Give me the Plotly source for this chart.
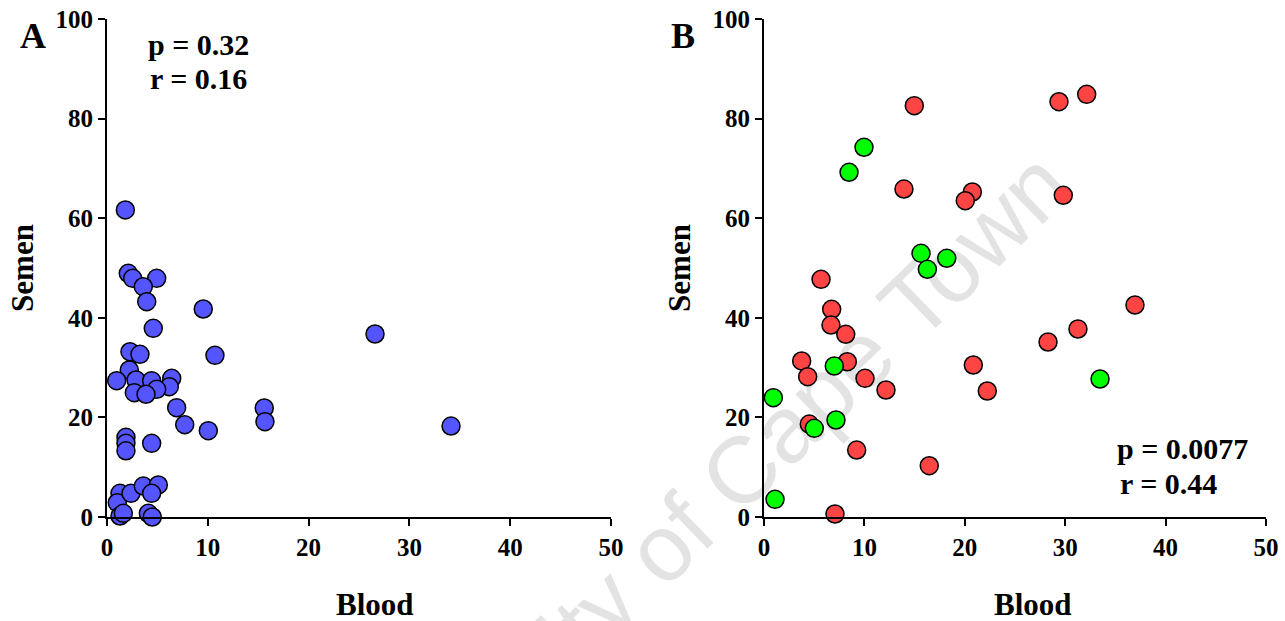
import plotly.graph_objects as go

# Panel A data (Blood vs Semen)
a_blood = [1.82, 2.11, 2.55, 4.93, 3.60, 3.94, 9.55, 4.59, 2.28, 3.27, 10.71, 2.21, 0.96, 2.88,
           4.43, 6.42, 6.18, 4.93, 2.71, 3.87, 6.91, 7.71, 10.05, 15.60, 15.67, 26.59, 34.13,
           1.88, 1.88, 1.88, 4.43, 1.29, 1.02, 2.38, 3.60, 5.09, 4.43, 1.29, 1.62, 4.10, 4.49]
a_semen = [61.65, 48.94, 47.93, 47.93, 46.24, 43.23, 41.77, 37.89, 33.19, 32.67, 32.47, 29.52,
           27.37, 27.51, 27.37, 27.85, 26.16, 25.64, 24.96, 24.64, 21.95, 18.53, 17.33, 21.89,
           19.14, 36.75, 18.27, 16.0, 14.8, 13.3, 14.8, 4.76, 2.87, 4.76, 6.22, 6.43, 4.76,
           0.2, 0.74, 0.74, 0.0]

# Panel B data: red group
b_red_blood = [14.97, 29.38, 32.14, 13.94, 20.75, 20.05, 29.81, 5.68, 6.74, 6.67, 8.14, 36.95,
               31.27, 28.29, 3.75, 8.30, 4.35, 10.06, 12.15, 20.85, 22.24, 4.51, 9.23, 16.46, 7.07]
b_red_semen = [82.59, 83.39, 84.88, 65.86, 65.26, 63.51, 64.60, 47.73, 41.71, 38.55, 36.69, 42.57,
               37.75, 35.14, 31.33, 31.18, 28.17, 27.85, 25.50, 30.52, 25.30, 18.67, 13.45, 10.30, 0.6]
# Panel B data: green group
b_green_blood = [9.96, 8.47, 15.64, 18.20, 16.27, 7.00, 0.93, 7.17, 5.01, 33.47, 1.10]
b_green_semen = [74.24, 69.22, 52.95, 51.95, 49.74, 30.32, 23.96, 19.48, 17.81, 27.71, 3.55]

x_ticks = [0, 10, 20, 30, 40, 50]
y_ticks = [0, 20, 40, 60, 80, 100]

W, H = 1285, 621
serif = "Liberation Serif"

def mk(color):
    return dict(size=18, color=color, line=dict(color="black", width=1.5))

fig = go.Figure()
fig.add_trace(go.Scatter(x=a_blood, y=a_semen, mode="markers", marker=mk("#5555ff"),
                         xaxis="x", yaxis="y", cliponaxis=False, showlegend=False))
fig.add_trace(go.Scatter(x=b_red_blood, y=b_red_semen, mode="markers", marker=mk("#ff4444"),
                         xaxis="x2", yaxis="y2", cliponaxis=False, showlegend=False))
fig.add_trace(go.Scatter(x=b_green_blood, y=b_green_semen, mode="markers", marker=mk("#00ff00"),
                         xaxis="x2", yaxis="y2", cliponaxis=False, showlegend=False))

ax_common = dict(showline=True, linecolor="black", linewidth=2, ticks="outside", ticklen=7,
                 tickwidth=2, tickcolor="black", showgrid=False, zeroline=False, automargin=False,
                 tickfont=dict(family=serif, size=25, color="black", weight="bold"))
title_font = dict(family=serif, size=31, color="black", weight="bold")

ydom = [1 - 517 / H, 1 - 19 / H]
fig.update_layout(
    width=W, height=H, margin=dict(l=0, r=0, t=0, b=0),
    paper_bgcolor="white", plot_bgcolor="rgba(0,0,0,0)",
    xaxis=dict(domain=[107 / W, 611 / W], range=[0, 50], tickvals=x_ticks, anchor="y",
               **ax_common),
    yaxis=dict(domain=ydom, range=[0, 100], tickvals=y_ticks, anchor="x",
               title=dict(text="Semen", font=title_font, standoff=13), **ax_common),
    xaxis2=dict(domain=[764 / W, 1266 / W], range=[0, 50], tickvals=x_ticks, anchor="y2",
                **ax_common),
    yaxis2=dict(domain=ydom, range=[0, 100], tickvals=y_ticks, anchor="x2",
                title=dict(text="Semen", font=title_font, standoff=13), **ax_common),
)

def txt(text, px, py, size, xanchor="left"):
    fig.add_annotation(text=text, x=px / W, y=1 - py / H, xref="paper", yref="paper",
                       xanchor=xanchor, yanchor="middle", showarrow=False,
                       font=dict(family=serif, size=size, color="black", weight="bold"))

txt("A", 33, 36, 36, "center")
txt("B", 683, 36, 36, "center")
txt("p = 0.32", 146, 45, 30)
txt("r = 0.16", 148, 78, 30)
txt("p = 0.0077", 1115, 448, 30)
txt("r = 0.44", 1118, 483, 30)
txt("Blood", 375, 604, 31, "center")
txt("Blood", 1033, 604, 31, "center")

# Watermark drawn beneath the data
sx, sy, ex, ey = 354, 910, 1090, 198
fig.add_shape(type="line", xref="paper", yref="paper",
              x0=sx / W, y0=1 - sy / H, x1=ex / W, y1=1 - ey / H,
              line=dict(color="rgba(0,0,0,0)", width=1), layer="below",
              label=dict(text="University of Cape Town", textposition="middle",
                         font=dict(family="Liberation Sans", size=94, color="#e3e3e3")))

fig.write_html("out.html")
